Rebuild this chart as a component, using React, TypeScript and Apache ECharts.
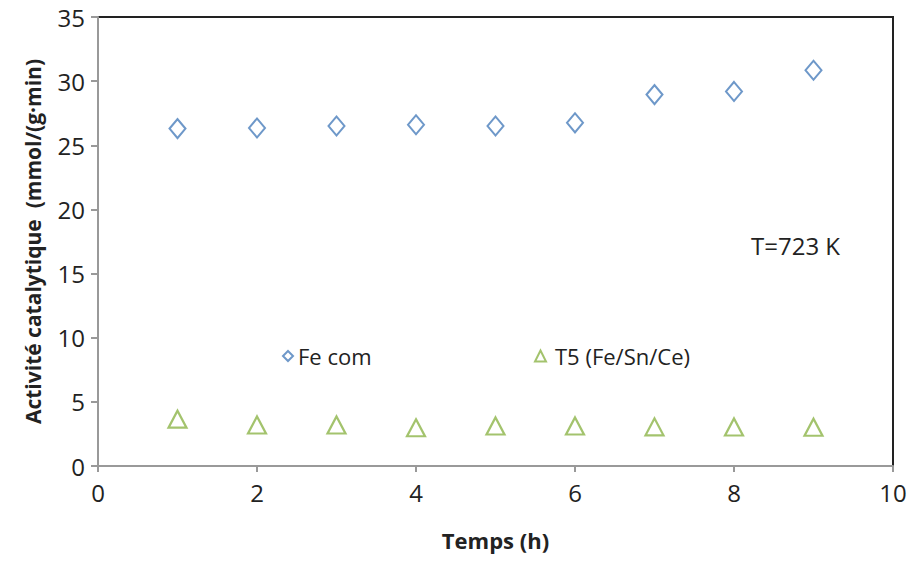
import React, { useEffect, useRef } from "react";
import * as echarts from "echarts";

const hours = [1, 2, 3, 4, 5, 6, 7, 8, 9];
const feCom = [26.3, 26.35, 26.5, 26.6, 26.5, 26.75, 28.95, 29.2, 30.85];
const t5 = [3.65, 3.2, 3.2, 2.98, 3.12, 3.12, 3.05, 3.04, 3.02];
const seriesNames = ["Fe com", "T5 (Fe/Sn/Ce)"];
const annotation = "T=723 K";

const FONT = "'Open Sans', 'DejaVu Sans', sans-serif";

export default function App() {
  const ref = useRef<HTMLDivElement>(null);
  useEffect(() => {
    if (!ref.current) return;
    const chart = echarts.init(ref.current, null, { renderer: "svg" });
    chart.setOption({
      animation: false,
      backgroundColor: "#fff",
      textStyle: { fontFamily: FONT },
      grid: {
        left: 98,
        top: 17,
        right: 18,
        bottom: 95,
        show: true,
        borderColor: "#222",
        borderWidth: 2,
      },
      legend: [
        {
          data: [seriesNames[0]],
          left: 277,
          top: 340,
          itemWidth: 10,
          itemHeight: 10,
          textStyle: { fontSize: 22, color: "#222", fontFamily: FONT },
        },
        {
          data: [seriesNames[1]],
          left: 529,
          top: 340,
          itemWidth: 11,
          itemHeight: 11,
          textStyle: { fontSize: 22, color: "#222", fontFamily: FONT, padding: [0, 0, 0, 4] },
        },
      ],
      graphic: [
        {
          type: "text",
          left: 751,
          top: 233,
          style: { text: annotation, fontSize: 24, fill: "#222", fontFamily: FONT },
        },
      ],
      xAxis: {
        type: "value",
        min: 0,
        max: 10,
        interval: 2,
        name: "Temps (h)",
        nameLocation: "middle",
        nameGap: 63,
        nameTextStyle: { fontSize: 22, fontWeight: "bold", color: "#222", fontFamily: FONT },
        axisLine: { show: true, onZero: false, lineStyle: { color: "#999", width: 2 } },
        axisTick: { show: true, length: 6, lineStyle: { color: "#999", width: 2 } },
        axisLabel: { fontSize: 24, color: "#222", margin: 14, fontFamily: FONT },
        splitLine: { show: false },
      },
      yAxis: {
        type: "value",
        min: 0,
        max: 35,
        interval: 5,
        name: "Activité catalytique  (mmol/(g·min)",
        nameLocation: "middle",
        nameGap: 55,
        nameTextStyle: { fontSize: 21, fontWeight: "bold", color: "#222", fontFamily: FONT },
        axisLine: { show: true, lineStyle: { color: "#999", width: 2 } },
        axisTick: { show: true, length: 7, lineStyle: { color: "#999", width: 2 } },
        axisLabel: { fontSize: 24, color: "#222", margin: 13, fontFamily: FONT },
        splitLine: { show: false },
      },
      series: [
        {
          name: seriesNames[0],
          type: "scatter",
          data: hours.map((h, i) => [h, feCom[i]]),
          symbol: "diamond",
          symbolSize: [16, 19],
          itemStyle: { color: "#fff", borderColor: "#4a7ebb", borderWidth: 2 },
        },
        {
          name: seriesNames[1],
          type: "scatter",
          data: hours.map((h, i) => [h, t5[i]]),
          symbol: "triangle",
          symbolSize: [18, 17],
          itemStyle: { color: "#fff", borderColor: "#8cb449", borderWidth: 2.2 },
        },
      ],
    });
    return () => chart.dispose();
  }, []);
  return <div ref={ref} style={{ width: 911, height: 561, position: "absolute", left: 0, top: 0 }} />;
}
